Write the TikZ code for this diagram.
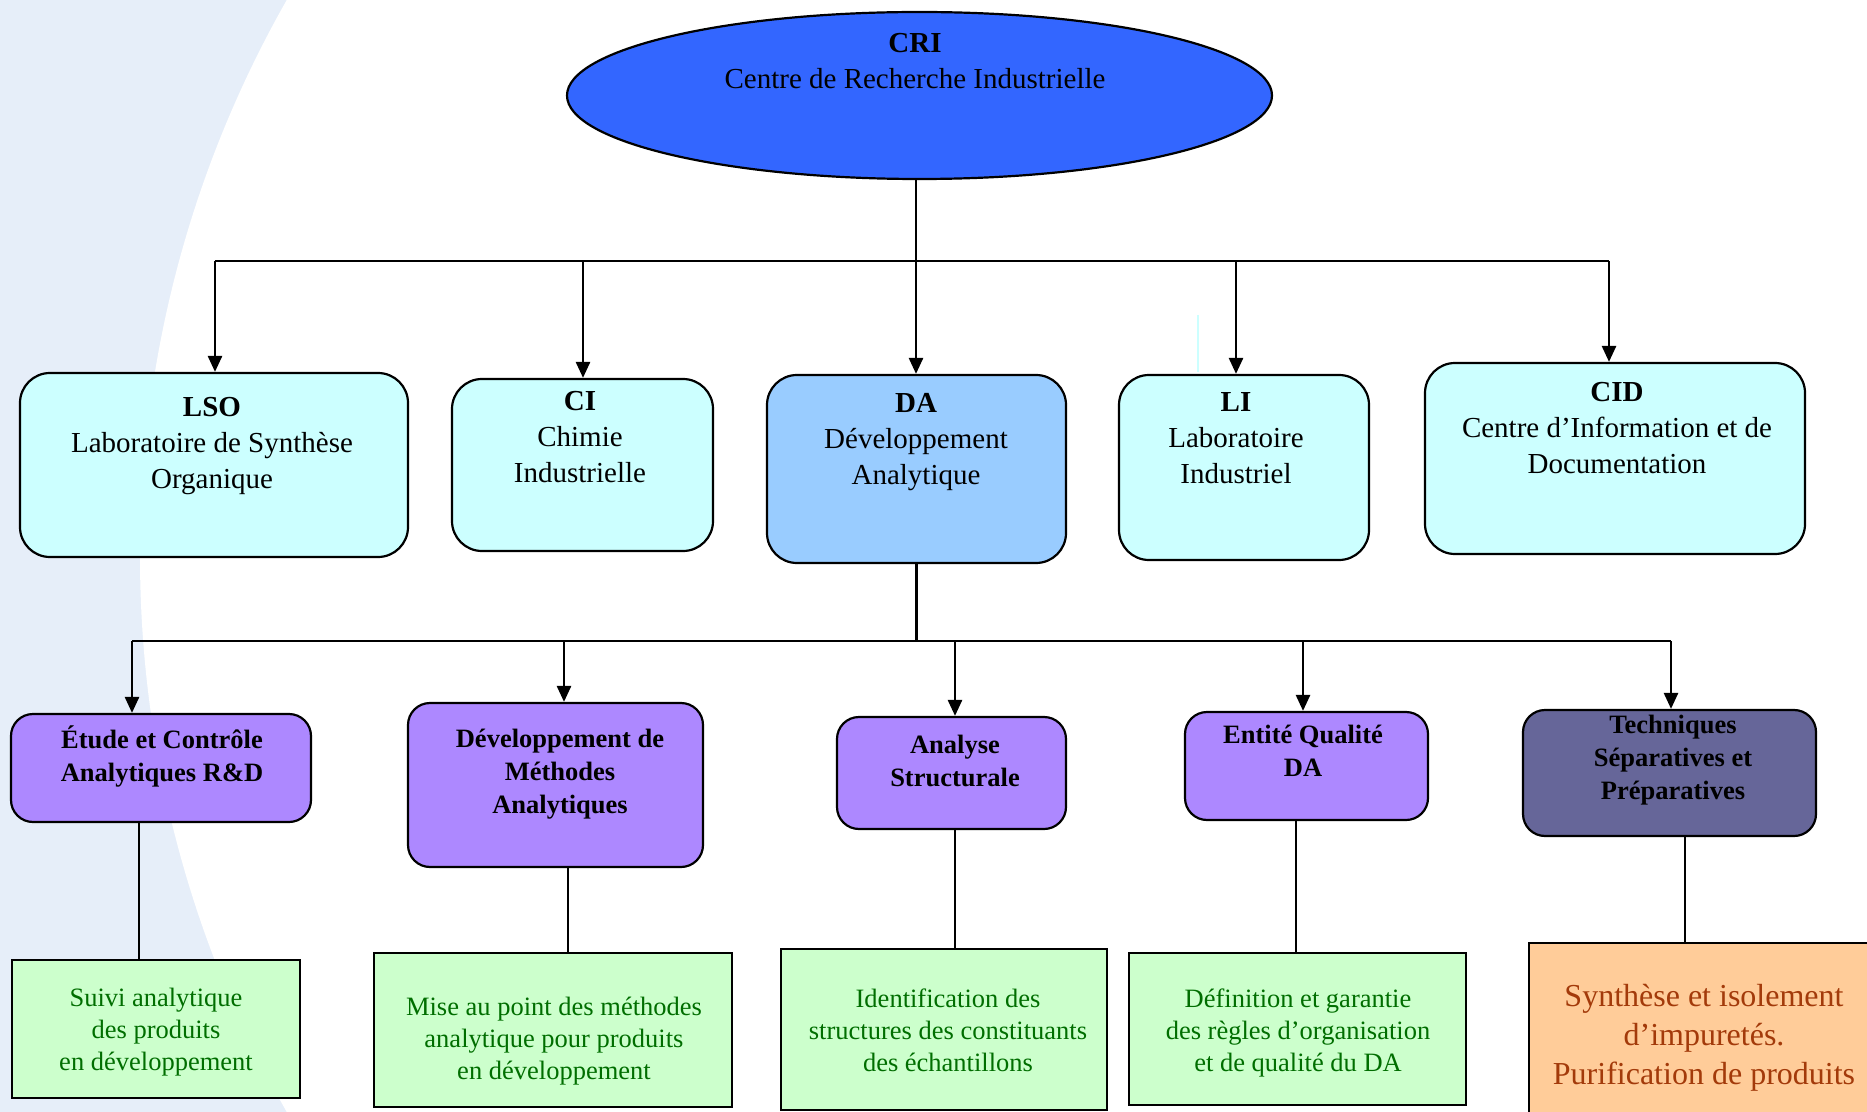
\documentclass[tikz,border=0pt]{standalone}
\usepackage{fontspec}
\setmainfont{Liberation Serif}
\usetikzlibrary{arrows.meta,shapes.geometric}
\definecolor{bgblue}{HTML}{E6EEF9}
\definecolor{criblue}{HTML}{3366FF}
\definecolor{cyanbox}{HTML}{CCFFFF}
\definecolor{dablue}{HTML}{99CCFF}
\definecolor{purplebox}{HTML}{AD88FF}
\definecolor{slatebox}{HTML}{666699}
\definecolor{greenbox}{HTML}{CCFFCC}
\definecolor{greentext}{HTML}{006E00}
\definecolor{orangebox}{HTML}{FFCC99}
\definecolor{orangetext}{HTML}{A33A0A}
\begin{document}
\begin{tikzpicture}[x=0.5pt,y=-0.5pt,
  conn/.style={line width=1.3pt,draw=black},
  arr/.style={conn,-{Triangle[width=7pt,length=8pt]}},
  topbox/.style={draw=black,line width=1.1pt,fill=cyanbox,rounded corners=15pt,inner sep=0pt},
  midbox/.style={draw=black,line width=1.1pt,fill=purplebox,rounded corners=11pt,inner sep=0pt},
  lowbox/.style={draw=black,line width=1.1pt,fill=greenbox,inner sep=0pt},
  toptxt/.style={align=center,inner sep=0pt,font=\fontsize{14.5}{18}\selectfont},
  midtxt/.style={align=center,inner sep=0pt,font=\fontsize{13.25}{16.5}\selectfont\bfseries},
  lowtxt/.style={align=center,inner sep=0pt,text=greentext,font=\fontsize{13.25}{16}\selectfont}]
\useasboundingbox (0,0) rectangle (1867,1112);
\begin{scope}
\clip (0,0) rectangle (1867,1112);
% background
\fill[bgblue] (0,0) rectangle (1867,1112);
\fill[white] (1265,556) circle[radius=562.5pt];
\draw[cyanbox,line width=0.6pt] (1198,315) -- (1198,372);

% CRI
\node[ellipse,draw=black,line width=1.1pt,fill=criblue,minimum width=352.5pt,minimum height=83.5pt,inner sep=0pt] (cri) at (919.5,95.5) {};
\node[toptxt] (crit) at (915,61) {\textbf{CRI}\\Centre de Recherche Industrielle};

% top boxes
\node[topbox,minimum width=194pt,minimum height=92pt] (lso) at (214,465) {};
\node[topbox,minimum width=130.5pt,minimum height=86pt] (ci) at (582.5,465) {};
\node[topbox,fill=dablue,minimum width=149.5pt,minimum height=94pt] (da) at (916.5,469) {};
\node[topbox,minimum width=125pt,minimum height=92.5pt] (li) at (1244,467.5) {};
\node[topbox,minimum width=190pt,minimum height=95.5pt] (cid) at (1615,458.5) {};

\node[toptxt] (lsot) at (212,446) {\textbf{LSO}\\Laboratoire de Synthèse\\Organique};
\node[toptxt] (cit) at (580,437) {\textbf{CI}\\Chimie\\Industrielle};
\node[toptxt] (dat) at (916,442.5) {\textbf{DA}\\Développement\\Analytique};
\node[toptxt] (lit) at (1236,438.5) {\textbf{LI}\\Laboratoire\\Industriel};
\node[toptxt] (cidt) at (1617,428.5) {\textbf{CID}\\Centre d’Information et de\\Documentation};

% connectors level 1
\coordinate (t1) at (215,261);
\coordinate (t2) at (583,261);
\coordinate (t3) at (916,261);
\coordinate (t4) at (1236,261);
\coordinate (t5) at (1609,261);
\draw[conn] (cri.south -| t3) -- (t3);
\draw[conn] (t1) -- (t5);
\draw[arr] (t1) -- (t1 |- lso.north);
\draw[arr] (t2) -- (t2 |- ci.north);
\draw[arr] (t3) -- (t3 |- da.north);
\draw[arr] (t4) -- (t4 |- li.north);
\draw[arr] (t5) -- (t5 |- cid.north);

% mid boxes
\node[midbox,minimum width=150pt,minimum height=54pt] (etude) at (161,768) {};
\node[midbox,minimum width=147.5pt,minimum height=82pt] (dev) at (555.5,785) {};
\node[midbox,minimum width=114.5pt,minimum height=56pt] (ana) at (951.5,773) {};
\node[midbox,minimum width=121.5pt,minimum height=54pt] (ent) at (1306.5,766) {};
\node[midbox,fill=slatebox,minimum width=146.5pt,minimum height=63pt] (tech) at (1669.5,773) {};

\node[midtxt] (etudet) at (162,756.5) {Étude et Contrôle\\Analytiques R\&D};
\node[midtxt] (devt) at (560,774.5) {Développement de\\Méthodes\\Analytiques};
\node[midtxt] (anat) at (955,761) {Analyse\\Structurale};
\node[midtxt] (entt) at (1303,751) {Entité Qualité\\DA};
\node[midtxt] (techt) at (1673,760.5) {Techniques\\Séparatives et\\Préparatives};

% connectors level 2
\coordinate (b1) at (132,641);
\coordinate (b2) at (564,641);
\coordinate (b3) at (955,641);
\coordinate (b4) at (1303,641);
\coordinate (b5) at (1671,641);
\draw[conn] (da.south) -- (da.south |- b1);
\draw[conn] (b1) -- (b5);
\draw[arr] (b1) -- (b1 |- etude.north);
\draw[arr] (b2) -- (b2 |- dev.north);
\draw[arr] (b3) -- (b3 |- ana.north);
\draw[arr] (b4) -- (b4 |- ent.north);
\draw[arr] (b5) -- (b5 |- tech.north);

% bottom boxes
\node[lowbox,minimum width=144pt,minimum height=69pt] (g1) at (156,1029) {};
\node[lowbox,minimum width=179pt,minimum height=77pt] (g2) at (553,1030) {};
\node[lowbox,minimum width=163pt,minimum height=80.5pt] (g3) at (944,1029.5) {};
\node[lowbox,minimum width=168.5pt,minimum height=76pt] (g4) at (1297.5,1029) {};
\node[lowbox,fill=orangebox,minimum width=178pt,minimum height=93.5pt] (o5) at (1707,1036.5) {};

\node[lowtxt] (g1t) at (156,1032.5) {Suivi analytique\\des produits\\en développement};
\node[lowtxt] (g2t) at (554,1041) {Mise au point des méthodes\\analytique pour produits\\en développement};
\node[lowtxt] (g3t) at (948,1030) {Identification des\\structures des constituants\\des échantillons};
\node[lowtxt] (g4t) at (1298,1032.5) {Définition et garantie\\des règles d’organisation\\et de qualité du DA};
\node[lowtxt,text=orangetext,font=\fontsize{16}{19.5}\selectfont] (o5t) at (1704,1037.5) {Synthèse et isolement\\d’impuretés.\\Purification de produits};

% connectors level 3
\draw[conn] ([xshift=-11pt]etude.south) -- ([xshift=-11pt]etude.south |- g1.north);
\draw[conn] ([xshift=6.25pt]dev.south) -- ([xshift=6.25pt]dev.south |- g2.north);
\draw[conn] ([xshift=1.75pt]ana.south) -- ([xshift=1.75pt]ana.south |- g3.north);
\draw[conn] ([xshift=-5.25pt]ent.south) -- ([xshift=-5.25pt]ent.south |- g4.north);
\draw[conn] ([xshift=7.75pt]tech.south) -- ([xshift=7.75pt]tech.south |- o5.north);
\end{scope}
\end{tikzpicture}
\end{document}
